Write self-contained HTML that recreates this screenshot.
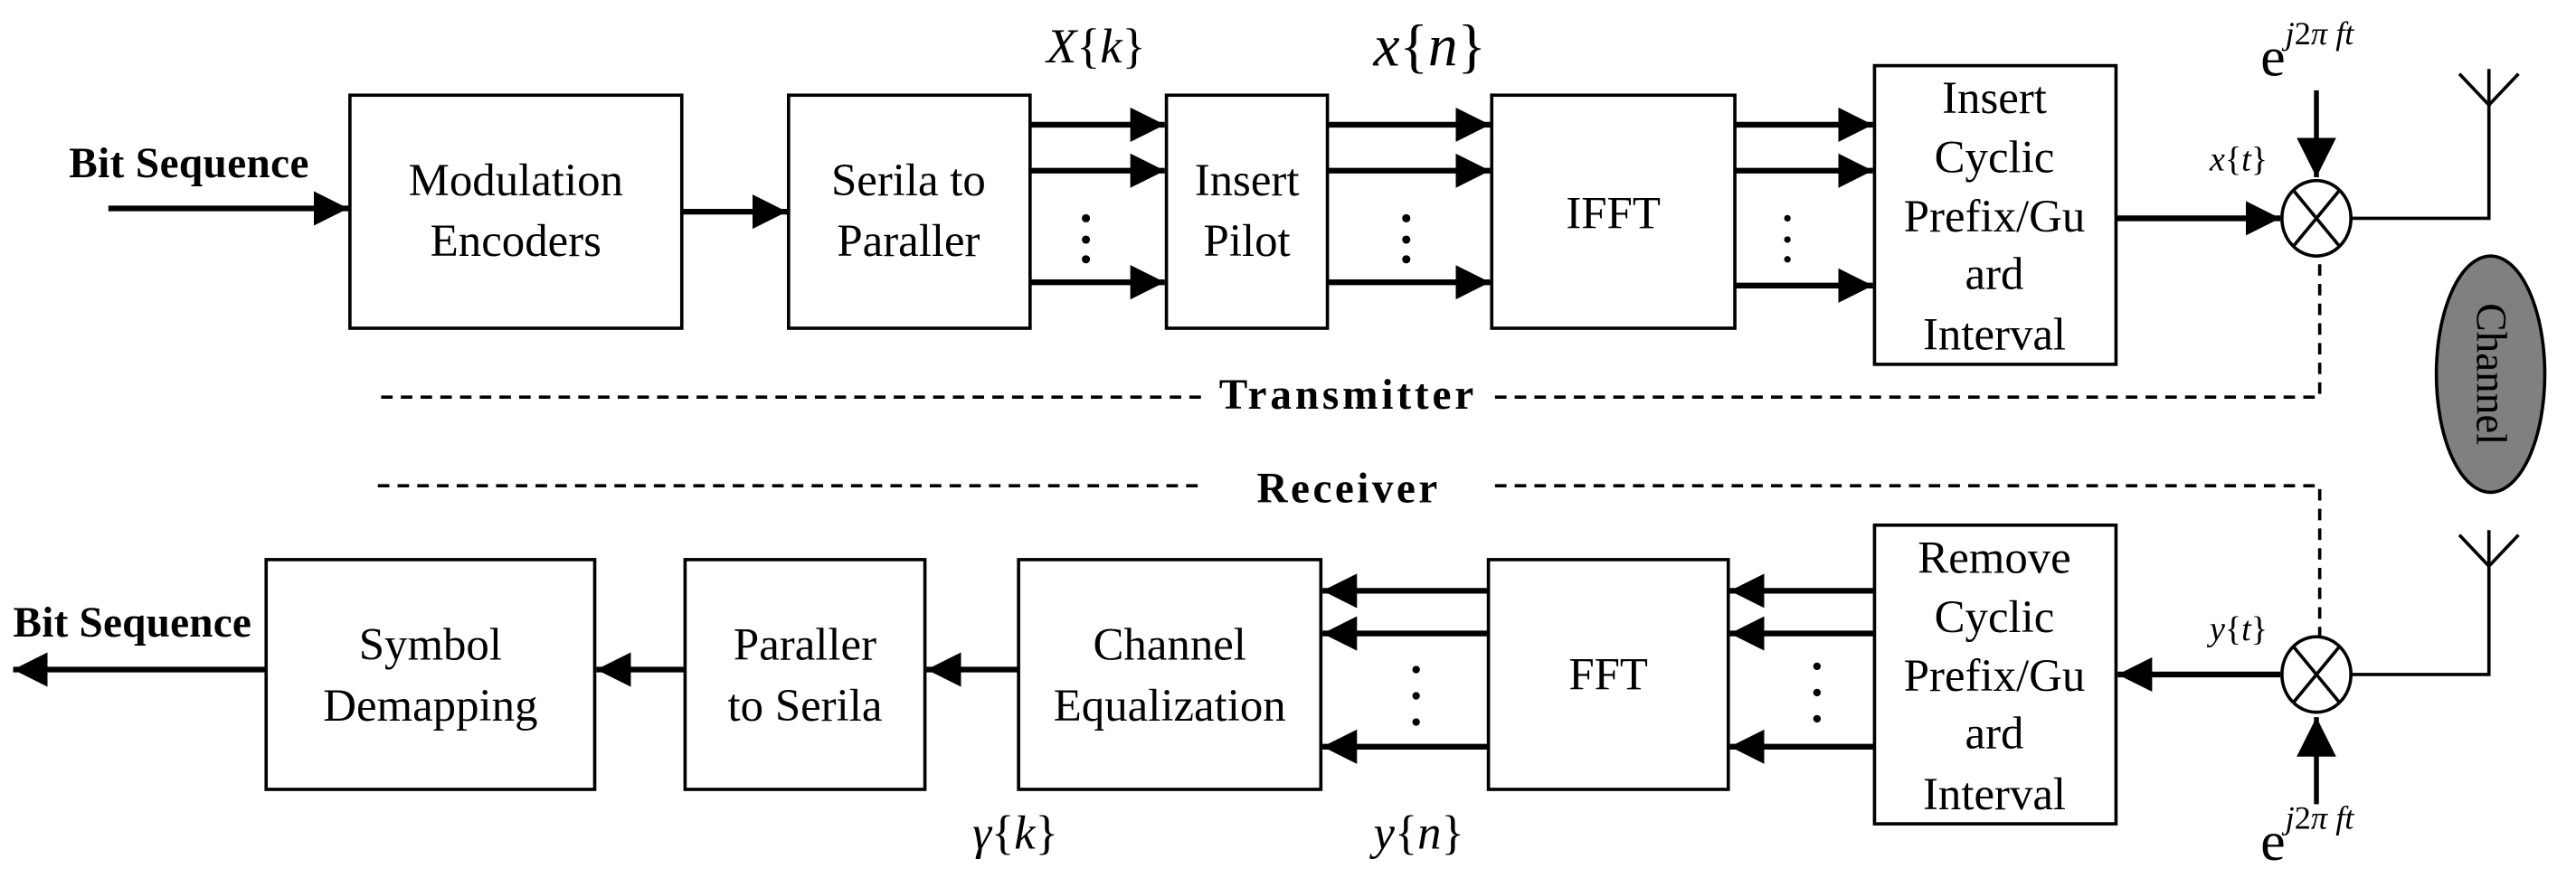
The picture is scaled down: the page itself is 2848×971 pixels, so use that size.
<!DOCTYPE html>
<html><head><meta charset="utf-8"><style>
html,body{margin:0;padding:0;background:#fff;}
svg{display:block;}
text{font-family:"Liberation Serif",serif;fill:#000;}
.b{font-size:28px;text-anchor:middle;}
.bold{font-weight:bold;font-size:26px;}
.it{font-style:italic;}
</style></head><body>
<svg width="2848" height="971" viewBox="0 0 1568 535" preserveAspectRatio="none" xmlns="http://www.w3.org/2000/svg">
<defs>
<marker id="a" viewBox="0 0 10 10" refX="10" refY="5" markerWidth="6" markerHeight="6" markerUnits="strokeWidth" orient="auto"><path d="M0,0 L10,5 L0,10 z" fill="#000"/></marker>
<marker id="a2" viewBox="0 0 10 10" refX="10" refY="5" markerWidth="9" markerHeight="8" markerUnits="strokeWidth" orient="auto"><path d="M0,0 L10,5 L0,10 z" fill="#000"/></marker>
</defs>
<g fill="none" stroke="#000" stroke-width="2">
<rect x="213" y="58" width="202" height="142"/>
<rect x="480" y="58" width="147" height="142"/>
<rect x="710" y="58" width="98" height="142"/>
<rect x="908" y="58" width="148" height="142"/>
<rect x="1141" y="40" width="147" height="182"/>
<rect x="1141" y="320" width="147" height="182"/>
<rect x="906" y="341" width="146" height="140"/>
<rect x="620" y="341" width="184" height="140"/>
<rect x="417" y="341" width="146" height="140"/>
<rect x="162" y="341" width="200" height="140"/>
</g>
<g stroke="#000" stroke-width="3.5" fill="none" marker-end="url(#a)">
<line x1="66" y1="127" x2="212" y2="127"/>
<line x1="415" y1="129" x2="479" y2="129"/>
<line x1="627" y1="76" x2="709" y2="76"/>
<line x1="627" y1="104" x2="709" y2="104"/>
<line x1="627" y1="172" x2="709" y2="172"/>
<line x1="808" y1="76" x2="907" y2="76"/>
<line x1="808" y1="104" x2="907" y2="104"/>
<line x1="808" y1="172" x2="907" y2="172"/>
<line x1="1056" y1="76" x2="1140" y2="76"/>
<line x1="1056" y1="104" x2="1140" y2="104"/>
<line x1="1056" y1="174" x2="1140" y2="174"/>
<line x1="1288" y1="133" x2="1388" y2="133"/>
<line x1="1141" y1="360" x2="1053" y2="360"/>
<line x1="1141" y1="386" x2="1053" y2="386"/>
<line x1="1141" y1="455" x2="1053" y2="455"/>
<line x1="906" y1="360" x2="805" y2="360"/>
<line x1="906" y1="386" x2="805" y2="386"/>
<line x1="906" y1="455" x2="805" y2="455"/>
<line x1="620" y1="408" x2="564" y2="408"/>
<line x1="417" y1="408" x2="363" y2="408"/>
<line x1="162" y1="408" x2="8" y2="408"/>
<line x1="1388" y1="411" x2="1289" y2="411"/>
</g>
<g stroke="#000" stroke-width="3" fill="none" marker-end="url(#a2)">
<line x1="1410" y1="55" x2="1410" y2="108"/>
<line x1="1410" y1="490" x2="1410" y2="437"/>
</g>
<g fill="#000">
<circle cx="661" cy="133" r="2.5"/><circle cx="661" cy="146" r="2.5"/><circle cx="661" cy="158" r="2.5"/>
<circle cx="856" cy="133" r="2.5"/><circle cx="856" cy="146" r="2.5"/><circle cx="856" cy="158" r="2.5"/>
<circle cx="1088" cy="133" r="2"/><circle cx="1088" cy="146" r="2"/><circle cx="1088" cy="158" r="2"/>
<circle cx="1106" cy="406" r="2.3"/><circle cx="1106" cy="422" r="2.3"/><circle cx="1106" cy="438" r="2.3"/>
<circle cx="862" cy="408" r="2.3"/><circle cx="862" cy="424" r="2.3"/><circle cx="862" cy="440" r="2.3"/>
</g>
<g stroke="#000" stroke-width="2" fill="none">
<ellipse cx="1410" cy="133" rx="21" ry="23"/>
<line x1="1396" y1="116" x2="1424" y2="150"/><line x1="1424" y1="116" x2="1396" y2="150"/>
<ellipse cx="1410" cy="411" rx="21" ry="23"/>
<line x1="1396" y1="394" x2="1424" y2="428"/><line x1="1424" y1="394" x2="1396" y2="428"/>
<polyline points="1431,133 1515,133 1515,42"/>
<polyline points="1497,45 1515,64 1533,45"/>
<polyline points="1431,411 1515,411 1515,323"/>
<polyline points="1497,326 1515,345 1533,326"/>
</g>
<g stroke="#000" stroke-width="2" fill="none" stroke-dasharray="7,5">
<line x1="232" y1="242" x2="735" y2="242"/>
<polyline points="910,242 1412,242 1412,157"/>
<line x1="230" y1="296" x2="732" y2="296"/>
<polyline points="910,296 1412,296 1412,388"/>
</g>
<ellipse cx="1516" cy="228" rx="33" ry="72" fill="#808080" stroke="#000" stroke-width="2"/>
<text x="1516" y="228" font-size="26" text-anchor="middle" dominant-baseline="central" transform="rotate(90 1516 228)">Channel</text>

<text class="bold" x="42" y="108" textLength="146">Bit Sequence</text>
<text class="bold" x="8" y="388" textLength="145">Bit Sequence</text>
<text class="bold" x="742" y="249" font-size="30" textLength="155">Transmitter</text>
<text class="bold" x="765" y="306" font-size="30" textLength="110">Receiver</text>

<text class="b" x="314" y="119">Modulation</text>
<text class="b" x="314" y="156">Encoders</text>
<text class="b" x="553" y="119">Serila to</text>
<text class="b" x="553" y="156">Paraller</text>
<text class="b" x="759" y="119">Insert</text>
<text class="b" x="759" y="156">Pilot</text>
<text class="b" x="982" y="139">IFFT</text>
<text class="b" x="1214" y="69">Insert</text>
<text class="b" x="1214" y="105">Cyclic</text>
<text class="b" x="1214" y="141">Prefix/Gu</text>
<text class="b" x="1214" y="176">ard</text>
<text class="b" x="1214" y="213">Interval</text>
<text class="b" x="1214" y="349">Remove</text>
<text class="b" x="1214" y="385">Cyclic</text>
<text class="b" x="1214" y="421">Prefix/Gu</text>
<text class="b" x="1214" y="456">ard</text>
<text class="b" x="1214" y="493">Interval</text>
<text class="b" x="979" y="420">FFT</text>
<text class="b" x="712" y="402">Channel</text>
<text class="b" x="712" y="439">Equalization</text>
<text class="b" x="490" y="402">Paraller</text>
<text class="b" x="490" y="439">to Serila</text>
<text class="b" x="262" y="402">Symbol</text>
<text class="b" x="262" y="439">Demapping</text>

<text x="637" y="38" font-size="30"><tspan class="it">X</tspan>{<tspan class="it">k</tspan>}</text>
<text x="836" y="40" font-size="36"><tspan class="it">x</tspan>{<tspan class="it">n</tspan>}</text>
<text x="1345" y="104" font-size="21"><tspan class="it">x</tspan>{<tspan class="it">t</tspan>}</text>
<text x="1345" y="390" font-size="21"><tspan class="it">y</tspan>{<tspan class="it">t</tspan>}</text>
<text x="592" y="517" font-size="29"><tspan class="it">γ</tspan>{<tspan class="it">k</tspan>}</text>
<text x="836" y="517" font-size="29"><tspan class="it">y</tspan>{<tspan class="it">n</tspan>}</text>
<text x="1376" y="46" font-size="34">e<tspan font-size="20" dy="-19" class="it">j</tspan><tspan font-size="20">2</tspan><tspan font-size="20" class="it">π ft</tspan></text>
<text x="1376" y="524" font-size="34">e<tspan font-size="20" dy="-19" class="it">j</tspan><tspan font-size="20">2</tspan><tspan font-size="20" class="it">π ft</tspan></text>
</svg>
</body></html>
